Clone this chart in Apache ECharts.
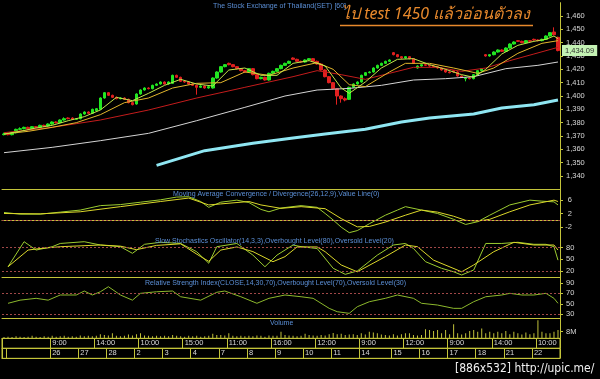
<!DOCTYPE html>
<html><head><meta charset="utf-8">
<script src="https://cdn.jsdelivr.net/npm/echarts@6/dist/echarts.min.js"></script>
<style>html,body{margin:0;padding:0;background:#000}#c{width:600px;height:379px}</style>
</head><body><div id="c"></div>
<script>
// ---- DATA ----
const dayNames   = ['', '', '26','27','28','2','3','4','7','8','9','10','11','14','15','16','17','18','21','22'];
const dayLengths = [1, 11, 7, 7, 7, 7, 7, 7, 7, 7, 7, 7, 7, 8, 7, 7, 7, 7, 7, 7];
const timeIdx  = [12, 23, 34, 45, 56, 67, 78, 89, 100, 111, 122, 133];
const timeText = ['9:00','14:00','10:00','15:00','11:00','16:00','12:00','9:00','12:00','9:00','14:00','10:00'];

const opens = [1371,1371.5,1371,1372.5,1375,1375.5,1376.5,1375.5,1377,1376.5,1378,1377.5,
 1379,1380.5,1380,1382,1383.5,1383.5,1382.5,1383,1386.5,1388,1387,1389,1390,1398.5,
 1402.5,1400.5,1399,1398,1398.5,1397.5,1395,1394,1401.5,1404.5,1406,1405.5,1408,1409,
 1410.5,1409,1409.5,1415.5,1414,1411,1410.5,1409,1408,1406.5,1407.5,1406,1406,1413.5,
 1418,1422,1424.5,1423.5,1422,1420.5,1419,1418,1420.5,1416,1413,1414,1412,1417,1418.5,
 1420.5,1423,1424.5,1428.5,1427.5,1426,1425.5,1427,1428,1426,1424,1419.5,1414.5,1410,
 1405.5,1400,1398,1397.5,1406.5,1409,1410.5,1415.5,1417.5,1418,1421,1423,1424.5,1426,
 1432.5,1431,1429.5,1428.5,1429.5,1428,1421,1422.5,1423.5,1423,1422.5,1422,1421,1419.5,
 1418,1419,1418,1415,1413,1413.5,1413,1416,1419,1431,1430,1431,1433,1434.5,1433.5,1436,
 1439,1441.5,1441,1440,1441.5,1442.5,1442,1441.5,1442.5,1445,1448,1444];
const closes = [1371.5,1371,1372.5,1375,1375.5,1376.5,1375.5,1377,1376.5,1378,1377.5,1379,
 1380.5,1380,1382,1383,1383,1382.5,1383,1386.5,1388,1387,1390,1390.5,1398.5,1402.5,
 1400.5,1399,1398,1398.5,1397.5,1395,1393.5,1401.5,1404.5,1406,1405.5,1408,1409,1410.5,
 1409,1410.5,1415.5,1414,1411,1410.5,1409,1408,1406.5,1407.5,1406,1407,1413.5,1418,
 1422,1423.5,1423.5,1422,1420.5,1419,1418,1420.5,1416,1413,1414,1412,1417,1418.5,1420.5,
 1423,1424.5,1426,1427.5,1426,1425.5,1427,1428,1426,1424,1419.5,1414.5,1410,1405.5,
 1400,1398,1397,1406.5,1409,1410.5,1415.5,1417.5,1418,1421,1423,1424.5,1426,1427,
 1431,1429.5,1428.5,1429.5,1428,1424.5,1422.5,1423.5,1423,1422.5,1422,1421,1419.5,1418,
 1417.5,1418,1415,1414,1413.5,1413,1416,1419,1420.5,1430,1431,1433,1434.5,1433.5,1436,
 1439,1440.5,1441,1440,1441.5,1441,1442,1441.5,1442.5,1445,1447.5,1446,1434.09];
const highs = [1372.5,1372.5,1373,1375.5,1376.5,1377,1377,1377.5,1377.5,1378.5,1378.5,1379.5,
 1381,1381,1382.5,1384,1384,1384,1383.5,1387,1388.5,1388.5,1390.5,1391,1399,1403,1403,
 1401,1399.5,1399,1399,1398,1395.5,1402,1405,1406.5,1406.5,1408.5,1409.5,1411,1411,1411,
 1416,1416,1414.5,1411.5,1411,1409.5,1408.5,1408,1408,1407.5,1414,1418.5,1422.5,1424,
 1425,1424,1422.5,1421,1419.5,1421,1421,1416.5,1414.5,1414.5,1417.5,1419,1421,1423.5,
 1425,1426.5,1429,1428,1426.5,1427.5,1428.5,1428.5,1426.5,1424.5,1420,1415,1410.5,1406,
 1400.5,1399,1407,1409.5,1411,1416,1418,1418.5,1421.5,1423.5,1425,1426.5,1427.5,1433,
 1431.5,1430,1430,1430,1428.5,1423,1424,1424,1423.5,1423,1422.5,1421.5,1420,1418.5,
 1419.5,1418.5,1415.5,1414,1414,1416.5,1419.5,1421,1431.5,1431.5,1433.5,1435,1435,
 1436.5,1439.5,1441,1442,1441.5,1442,1442,1443,1442.5,1443,1445.5,1448,1451.5,1444.5];
const lows = [1370.5,1370.5,1370.5,1372,1374.5,1375,1375,1375,1376,1376,1377,1377,
 1378.5,1379.5,1379.5,1381.5,1382.5,1382,1382,1382.5,1386,1386.5,1386.5,1388.5,1389.5,
 1398,1400,1398.5,1397.5,1397.5,1397,1394.5,1393,1393.5,1401,1404,1405,1405,1407.5,
 1408.5,1408.5,1408.5,1409,1413.5,1410.5,1410,1408.5,1407.5,1401,1406,1405.5,1405.5,
 1405.5,1413,1417.5,1421.5,1423,1421.5,1420,1418.5,1417.5,1417.5,1415.5,1412.5,1412.5,
 1411.5,1411.5,1416.5,1418,1420,1422.5,1424,1427,1425.5,1425,1425,1426.5,1425.5,1423.5,
 1419,1414,1409.5,1405,1393.5,1395,1396,1397,1406,1408.5,1410,1415,1417,1417.5,1420.5,
 1422.5,1424,1425.5,1430.5,1429,1428,1428,1427.5,1424,1420.5,1422,1422.5,1422,1421.5,
 1420.5,1419,1417.5,1417,1417.5,1414.5,1413.5,1411,1412.5,1412.5,1415.5,1418.5,1429.5,
 1429.5,1430.5,1432.5,1433,1433,1435.5,1438.5,1440.5,1439.5,1439.5,1440.5,1441.5,1441,
 1441,1442,1444.5,1445.5,1433.5];

const maFast = [[0,1371.5],[4,1373.5],[8,1376],[12,1378],[16,1381.5],[20,1384.5],[24,1389.5],
 [28,1399],[32,1396.5],[36,1402],[40,1408],[44,1412.5],[48,1409],[52,1407.5],[56,1419.5],
 [60,1421],[64,1415.5],[68,1415.5],[72,1424.5],[76,1426.5],[80,1422.5],[84,1406],[86,1402],
 [90,1410.5],[94,1421],[98,1427.5],[102,1428],[106,1423.5],[110,1420],[114,1416],[117,1414],
 [120,1420],[124,1431.5],[128,1438],[132,1441],[135,1442.5],[137,1445],[138,1443]];
const maMid = [[0,1371.5],[6,1373.5],[12,1376.5],[18,1380],[24,1386],[30,1395],[36,1398.5],
 [42,1406],[48,1409.5],[54,1410],[60,1418],[66,1415.5],[72,1421],[78,1425],[82,1420],
 [86,1408.5],[90,1407],[96,1418],[100,1424.5],[106,1424.5],[112,1421],[118,1417],[122,1421],
 [128,1432],[134,1439.5],[138,1441.5]];
const maRed = [[0,1372.5],[12,1376.5],[24,1382],[36,1389.5],[48,1398.5],[60,1406.5],[72,1414.5],
 [78,1419],[84,1416],[90,1412.5],[96,1417],[102,1421.5],[108,1421.5],[114,1418.5],[120,1421],
 [126,1426.5],[132,1431.5],[138,1436.5]];
const maWhite = [[0,1357.5],[12,1361.5],[24,1366.5],[36,1372],[48,1381.5],[60,1391.5],[70,1400],
 [78,1404.5],[86,1405.7],[94,1408],[102,1412],[110,1413],[117,1414.5],[125,1420.5],[133,1423],
 [138,1425.5]];
const maCyan = [[38,1348],[50,1359],[62,1364.5],[72,1368.5],[80,1371.5],[90,1375],[99,1380.5],
 [106,1383.5],[117,1386.5],[124,1391],[132,1393.5],[138,1397]];

const macdLine = [[0,2.3],[4,1.8],[9,1.8],[14,2.4],[19,3.0],[24,4.3],[29,4.6],[34,5.3],[39,6.0],
 [43,6.8],[46,6.9],[49,5.5],[51,3.8],[54,5.3],[58,5.9],[61,5.2],[64,3.2],[66,2.5],[69,3.6],
 [74,4.3],[78,3.8],[80,2.0],[82,0.1],[84,-2.0],[86,-3.6],[88,-3.0],[91,-1.0],[95,1.5],[98,3.0],
 [100,4.0],[104,3.0],[108,2.0],[112,0.3],[115,-1.2],[118,-0.4],[121,1.5],[126,4.5],[131,5.9],
 [134,5.6],[137,5.4],[138,4.5]];
const macdSignal = [[0,2.0],[9,1.9],[19,2.5],[29,4.0],[39,5.5],[46,6.5],[51,4.5],[54,4.8],[61,5.5],
 [64,4.5],[69,3.5],[74,4.0],[80,3.4],[84,0.5],[88,-1.9],[91,-1.8],[95,-0.5],[100,1.5],[104,3.0],
 [108,2.4],[112,1.2],[115,0.0],[118,-0.2],[121,0.3],[126,2.5],[131,4.5],[134,5.2],[137,5.9],[138,5.5]];

const stochK = [[1,31],[5,95.5],[8,74],[12,82.6],[14,91],[20,95.5],[24,87],[29,82.6],[32,65.6],
 [35,88.8],[39,94],[44,91],[48,69.7],[51,40],[53,82.6],[58,91],[62,61],[65,31],[68,61],[72,87],
 [74,82.6],[78,78],[82,27],[85,11.5],[88,20],[93,61],[97,87],[100,91],[102,78],[105,44],[109,27],
 [112,18],[114,9.7],[117,22.6],[120,91],[124,91],[128,94],[132,88.8],[135,88.8],[137,82.6],[138,48]];
const stochD = [[1,31],[6,74],[9,78],[14,82.6],[24,87],[29,84],[33,75],[38,86],[44,90],[49,57],
 [51,45],[54,74],[58,82],[62,70],[67,44],[70,57],[73,82],[78,82],[80,69.7],[84,35.5],[88,18],
 [95,57],[100,87],[103,82.6],[107,48],[114,18],[117,35.5],[122,69.7],[127,94],[132,87],[137,87],[138,74]];

const rsi = [[1,51],[4,57],[8,60.5],[11,57],[14,66.8],[18,66.8],[20,74.4],[22,66.8],[24,73],
 [26,82.6],[29,66.8],[32,57],[34,70],[38,73],[42,74.4],[44,63.5],[49,57],[53,72],[55,74.4],
 [59,63.5],[63,51],[66,60.5],[70,66.8],[74,63.5],[77,60.5],[81,41.4],[83,35],[86,31.9],[88,44.5],
 [91,54],[95,60.5],[98,66.8],[102,60.5],[104,51],[108,47.7],[112,41.4],[114,41.4],[117,54],
 [120,63.5],[124,66.8],[126,70],[129,66.8],[132,66.8],[135,70],[137,60.5],[138,51]];

const volume = [1.5,2,1.5,2.5,2,1.5,2,3,2,1.5,2.5,2,
 3,2,2.5,3,2,2.5,2, 3.5,2.5,3,2.5,3,5,4, 3.5,6,3,2.5,3,4.5,3.5, 5,6,3.5,3,2.5,3,2.5,
 3,2.5,4,3,2.5,2,3, 2.5,3,2,2.5,3,5.5,4, 4,3.5,6,3,2.5,3,2.5, 3,2.5,3.5,3,2,3.5,3,
 3,8,4,3.5,3,2.5,3, 5.5,4,3.5,3,4,3.5,5, 6.5,5,5.5,4,4.5,5,4, 6,4.5,8,7,6,4.5,4,3.5,
 5,3.5,5,6,6,4,3.5, 4,11,10,9,10,6,10, 5,17,6,4.5,6,9,10, 8,12,6,8,6,8,6,
 9,5,8,6,4.5,7,5, 6,22,8,6,6,8,10];

const priceTicks = [1340,1350,1360,1370,1380,1390,1400,1410,1420,1430,1440,1450,1460];
const lastPrice = 1434.09;

// ---- BUILD ----
const N = closes.length;
const cats = [], dateLabels = [], timeLabels = [];
const dayStart = new Set();
let k = 0;
dayNames.forEach((d, di) => { for (let j = 0; j < dayLengths[di]; j++) { cats.push(String(k)); dateLabels.push(j === 0 ? d : ''); if (j === 0) dayStart.add(k); k++; } });
for (let i = 0; i < N; i++) timeLabels.push('');
timeIdx.forEach((ix, n) => { timeLabels[ix] = timeText[n]; });
const timeStart = new Set(timeIdx); timeStart.add(0);
const candles = opens.map((o, i) => [o, closes[i], lows[i], highs[i]]);

const YEL = '#c4c43a', LBL = '#d8d8d8', BLUE = '#5b8fd6', DASH = '#a04848';
const FONT = 'Liberation Sans, Arial, sans-serif';
const L = 2, R = 40;
const grids = [
  {top: 2.67, height: 186.67}, {top: 189.33, height: 46.4}, {top: 235.73, height: 42},
  {top: 277.73, height: 40.6}, {top: 318.33, height: 20}, {top: 338.33, height: 10}, {top: 348.33, height: 10}
].map((g, i) => Object.assign({left: L, right: R, containLabel: false}, g,
  i >= 5 ? {show: true, borderColor: YEL, borderWidth: 1} : {}));

function panelX(gi) {
  return {type: 'category', gridIndex: gi, data: cats, boundaryGap: true,
    axisLine: {show: true, lineStyle: {color: YEL, width: 1}}, axisTick: {show: false},
    axisLabel: {show: false}, splitLine: {show: false}};
}
function rowX(gi, labels, starts) {
  return {type: 'category', gridIndex: gi, data: labels, position: 'top', boundaryGap: true,
    axisLine: {show: true, lineStyle: {color: YEL}}, axisTick: {show: false},
    axisLabel: {show: true, inside: true, interval: 0, align: 'left', verticalAlign: 'top', margin: 1,
      color: LBL, fontSize: 7.5, fontFamily: FONT},
    splitLine: {show: true, interval: (i) => starts.has(i), lineStyle: {color: YEL, width: 1}}};
}
const labelFont = {color: LBL, fontSize: 7.5, fontFamily: FONT};
function panelY(gi, min, max, vals, fmt, extra) {
  return Object.assign({type: 'value', gridIndex: gi, position: 'right', min, max, scale: true,
    axisLine: {show: true, lineStyle: {color: YEL}},
    axisTick: {show: true, length: 3, lineStyle: {color: YEL}, customValues: vals},
    axisLabel: Object.assign({show: true, margin: 6, customValues: vals, formatter: fmt}, labelFont),
    splitLine: {show: false}}, extra || {});
}
const dashed = (vals) => ({silent: true, symbol: 'none', label: {show: false},
  lineStyle: {color: DASH, type: [2, 2], width: 1}, data: vals.map(v => ({yAxis: v}))});
const line = (name, data, xi, color, w, extra) => Object.assign({name, type: 'line', xAxisIndex: xi, yAxisIndex: xi,
  data, symbol: 'none', smooth: false, lineStyle: {color, width: w}, itemStyle: {color}, z: 3}, extra || {});
const ttl = (text, left, top, size, color, extra) => ({text, left, top, padding: 0,
  textStyle: Object.assign({color, fontSize: size, fontWeight: 'normal', fontFamily: FONT}, extra || {})});

const option = {
  backgroundColor: '#000',
  animation: false,
  grid: grids,
  title: [
    ttl('The Stock Exchange of Thailand(SET) [60]', 213, 3, 7, BLUE),
    ttl('ไป test 1450 แล้วอ่อนตัวลง', 342, 6, 16, '#e8892c', {fontStyle: 'italic', fontFamily: 'Noto Sans, DejaVu Sans, sans-serif'}),
    ttl('Moving Average Convergence / Divergence(26,12,9),Value Line(0)', 173, 191, 7, BLUE),
    ttl('Slow Stochastics Oscillator(14,3,3),Overbought Level(80),Oversold Level(20)', 155, 237.5, 7, BLUE),
    ttl('Relative Strength Index(CLOSE,14,30,70),Overbought Level(70),Oversold Level(30)', 145, 279.5, 7, BLUE),
    ttl('Volume', 270, 319.5, 7, BLUE),
    ttl('[886x532] http://upic.me/', 455, 363, 12, '#f0f0f0', {fontFamily: 'DejaVu Sans Condensed, DejaVu Sans, sans-serif'})
  ],
  graphic: [{type: 'line', shape: {x1: 340, y1: 25.5, x2: 533, y2: 25.5}, style: {stroke: '#e8892c', lineWidth: 1.5}}],
  xAxis: [panelX(0), panelX(1), panelX(2), panelX(3), panelX(4), rowX(5, timeLabels, timeStart), rowX(6, dateLabels, dayStart)],
  yAxis: [
    panelY(0, 1330, 1470, priceTicks, (v) => echarts.format.addCommas(v)),
    panelY(1, -4.5, 9.06, [6, 2, -2], (v) => String(v), {axisLabel: Object.assign({show: true, margin: 12, align: 'right', customValues: [6, 2, -2]}, labelFont)}),
    panelY(2, 2.7, 110.9, [80, 50, 20], (v) => String(v)),
    panelY(3, 22.4, 99.7, [90, 70, 50, 30], (v) => String(v)),
    panelY(4, 0, 24.2, [8], () => '8M'),
    {type: 'value', gridIndex: 5, show: false},
    {type: 'value', gridIndex: 6, show: false}
  ],
  series: [
    line('white', maWhite, 0, '#d4d4d4', 1),
    line('cyan', maCyan, 0, '#8fe6f2', 3),
    line('red', maRed, 0, '#c41c1c', 1),
    line('mid', maMid, 0, '#e2b62c', 1),
    line('fast', maFast, 0, '#c2e64a', 1),
    {name: 'SET', type: 'candlestick', xAxisIndex: 0, yAxisIndex: 0, data: candles, barWidth: 3, z: 2,
      itemStyle: {color: '#22e622', color0: '#e22020', borderColor: '#22e622', borderColor0: '#e22020', borderWidth: 1},
      markLine: {silent: true, symbol: 'none', lineStyle: {color: 'rgba(0,0,0,0)', width: 1},
        label: {show: true, position: 'end', distance: 2, formatter: () => echarts.format.addCommas(lastPrice.toFixed(2)),
          backgroundColor: '#c4f2b4', color: '#303030', padding: [2, 3, 1, 3], fontSize: 7.5, fontFamily: FONT},
        data: [{yAxis: lastPrice}]}},
    line('MACD', macdLine, 1, '#9ccc30', 1, {markLine: dashed([0])}),
    line('Signal', macdSignal, 1, '#dcd82a', 1),
    line('%K', stochK, 2, '#9ccc30', 1, {markLine: dashed([80, 20])}),
    line('%D', stochD, 2, '#dcd82a', 1),
    line('RSI', rsi, 3, '#8cb82c', 1, {markLine: dashed([70, 30])}),
    {name: 'Volume', type: 'bar', xAxisIndex: 4, yAxisIndex: 4, data: volume, barWidth: 1, itemStyle: {color: '#c0c03a'}}
  ]
};
const chart = echarts.init(document.getElementById('c'), null, {renderer: 'canvas'});
chart.setOption(option);
</script></body></html>
